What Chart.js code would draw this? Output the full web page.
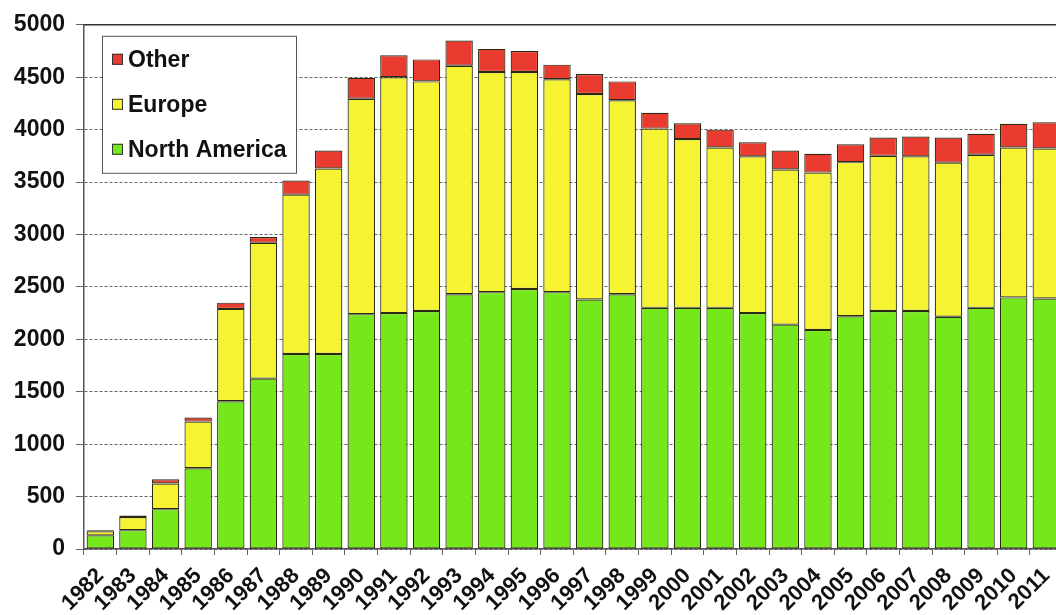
<!DOCTYPE html>
<html>
<head>
<meta charset="utf-8">
<script src="https://cdn.jsdelivr.net/npm/chart.js@4"></script>
<style>
  html, body { margin: 0; padding: 0; background: #fff; overflow: hidden; }
  .wrap { width: 1073px; height: 615px; }
</style>
</head>
<body>
<div class="wrap"><canvas class="myChart" width="1073" height="615"></canvas></div>
<script>
// years on the x axis
const jaren = ["1982","1983","1984","1985","1986","1987","1988","1989","1990","1991",
  "1992","1993","1994","1995","1996","1997","1998","1999","2000","2001",
  "2002","2003","2004","2005","2006","2007","2008","2009","2010","2011"];

// stacked series
const noordAmerika = [130,180,380,770,1410,1625,1860,1860,2240,2250,
  2270,2430,2450,2480,2450,2380,2430,2300,2300,2300,
  2250,2140,2090,2220,2270,2270,2215,2300,2400,2390];
const europa = [40,125,245,445,880,1295,1520,1770,2055,2250,
  2190,2180,2100,2070,2030,1960,1850,1710,1610,1530,
  1495,1480,1500,1470,1480,1475,1470,1460,1430,1430];
const overig = [10,15,40,40,60,55,135,170,200,210,
  210,240,220,200,140,190,180,150,150,170,
  135,180,180,170,175,190,240,200,225,250];

const yTicks = [0,500,1000,1500,2000,2500,3000,3500,4000,4500,5000];

const fontFam = "'Liberation Sans', Arial, sans-serif";

// legend drawn inside the plot, in a box (Other on top)
const boxLegend = {
  id: "boxLegend",
  afterDraw(chart) {
    const ctx = chart.ctx;
    const area = chart.chartArea;
    // solid top frame line
    ctx.save();
    ctx.strokeStyle = "#333";
    ctx.lineWidth = 1.5;
    ctx.beginPath();
    ctx.moveTo(area.left, area.top);
    ctx.lineTo(area.right, area.top);
    ctx.stroke();

    const x = area.left + 18, y = area.top + 11, w = 194, h = 137;
    ctx.fillStyle = "#fff";
    ctx.fillRect(x, y, w, h);
    ctx.strokeStyle = "#555";
    ctx.lineWidth = 1;
    ctx.strokeRect(x + 0.5, y + 0.5, w, h);

    const sets = chart.data.datasets.slice().reverse();
    ctx.font = "bold 23px " + fontFam;
    ctx.textBaseline = "middle";
    sets.forEach((ds, i) => {
      const cy = y + 24 + i * 45;
      ctx.fillStyle = ds.backgroundColor;
      ctx.fillRect(x + 10, cy - 6, 11, 11);
      ctx.strokeStyle = "#333";
      ctx.strokeRect(x + 10.5, cy - 5.5, 10, 10);
      ctx.fillStyle = "#111";
      ctx.fillText(ds.label, x + 26, cy + 1);
    });
    ctx.restore();
  }
};

let ctx = document.querySelector(".myChart").getContext("2d");
let myChart = new Chart(ctx, {
  type: "bar",
  data: {
    labels: jaren,
    datasets: [
      { label: "North America", data: noordAmerika, backgroundColor: "#74e81a" },
      { label: "Europe", data: europa, backgroundColor: "#f6f332" },
      { label: "Other", data: overig, backgroundColor: "#ea3b30" }
    ].map(ds => Object.assign(ds, {
      borderColor: "#2a2a10",
      borderWidth: 1.2,
      borderSkipped: false,
      barPercentage: 0.84,
      categoryPercentage: 1
    }))
  },
  plugins: [boxLegend],
  options: {
    responsive: false,
    animation: false,
    layout: { padding: { top: 23, right: 2, left: 0, bottom: 0 } },
    plugins: { legend: { display: false }, tooltip: { enabled: false } },
    scales: {
      x: {
        stacked: true,
        grid: { drawOnChartArea: false, drawTicks: true, tickLength: 6, color: "#666" },
        border: { display: true, color: "#555", width: 1.5 },
        ticks: {
          color: "#111",
          font: { family: fontFam, size: 22, weight: "bold" },
          minRotation: 45, maxRotation: 45, autoSkip: false, padding: 8
        },
        afterFit(scale) { scale.height = 66; }
      },
      y: {
        stacked: true,
        min: 0, max: 5000,
        afterBuildTicks(scale) { scale.ticks = yTicks.map(v => ({ value: v })); },
        grid: { color: "#666", lineWidth: 1, tickLength: 8 },
        border: { display: true, color: "#555", width: 1.5, dash: [3, 2] },
        ticks: {
          color: "#111",
          padding: 11,
          font: { family: fontFam, size: 23, weight: "bold" },
          callback: v => String(v)
        },
        afterFit(scale) { scale.width = 84; }
      }
    }
  }
});
</script>
</body>
</html>
